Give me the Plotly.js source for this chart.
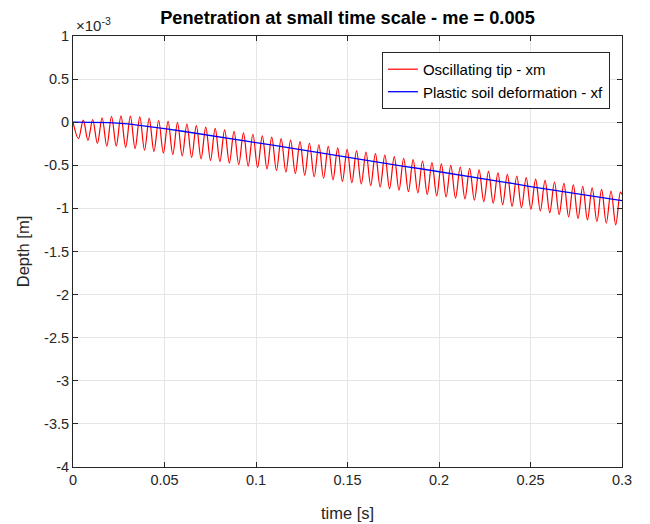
<!DOCTYPE html>
<html>
<head>
<meta charset="utf-8">
<script src="https://cdn.plot.ly/plotly-3.0.1.min.js"></script>
<style>html,body{margin:0;padding:0;background:#fff;}#chart{width:650px;height:524px;}</style>
</head>
<body>
<div id="chart"></div>
<script>
// Oscillating tip xm: extrema (time [s], depth [x1e-3 m])
var xmTime = [0, 0.003, 0.0056, 0.00818, 0.01075, 0.01333, 0.0159, 0.01848, 0.02105, 0.02363, 0.0262, 0.02878, 0.03135, 0.03393, 0.0365, 0.03908, 0.04165, 0.04423, 0.0468, 0.04938, 0.05195, 0.05453, 0.0571, 0.05968, 0.06225, 0.06483, 0.0674, 0.06998, 0.07255, 0.07513, 0.0777, 0.08028, 0.08285, 0.08543, 0.088, 0.09058, 0.09315, 0.09573, 0.0983, 0.10088, 0.10345, 0.10603, 0.1086, 0.11118, 0.11375, 0.11633, 0.1189, 0.12148, 0.12405, 0.12663, 0.1292, 0.13178, 0.13435, 0.13693, 0.1395, 0.14208, 0.14465, 0.14723, 0.1498, 0.15238, 0.15495, 0.15753, 0.1601, 0.16268, 0.16525, 0.16783, 0.1704, 0.17298, 0.17555, 0.17813, 0.1807, 0.18328, 0.18585, 0.18843, 0.191, 0.19358, 0.19615, 0.19873, 0.2013, 0.20388, 0.20645, 0.20903, 0.2116, 0.21418, 0.21675, 0.21933, 0.2219, 0.22448, 0.22705, 0.22963, 0.2322, 0.23478, 0.23735, 0.23993, 0.2425, 0.24508, 0.24765, 0.25023, 0.2528, 0.25538, 0.25795, 0.26053, 0.2631, 0.26568, 0.26825, 0.27083, 0.2734, 0.27598, 0.27855, 0.28113, 0.2837, 0.28628, 0.28885, 0.29143, 0.294, 0.29658, 0.29915, 0.3];
var xmDepth = [0, -0.19,
  0.025, -0.21, 0.03, -0.245, 0.05, -0.278, 0.069, -0.276, 0.074, -0.29,
  0.07, -0.305, 0.062, -0.325, 0.045, -0.34, 0.02, -0.358, 0.01, -0.374,
  -0.005, -0.39, -0.022, -0.408, -0.04, -0.425, -0.056, -0.442, -0.072, -0.456,
  -0.088, -0.474, -0.106, -0.492, -0.124, -0.51, -0.14, -0.525, -0.158, -0.542,
  -0.172, -0.56, -0.19, -0.578, -0.208, -0.595, -0.226, -0.614, -0.244, -0.632,
  -0.262, -0.65, -0.28, -0.668, -0.298, -0.686, -0.316, -0.702, -0.332, -0.718,
  -0.346, -0.735, -0.364, -0.752, -0.382, -0.77, -0.4, -0.788, -0.418, -0.805,
  -0.434, -0.82, -0.45, -0.837, -0.468, -0.854, -0.484, -0.868, -0.502, -0.88,
  -0.52, -0.89, -0.536, -0.905, -0.552, -0.922, -0.57, -0.94, -0.588, -0.957,
  -0.606, -0.975, -0.624, -0.993, -0.644, -1.01, -0.66, -1.03, -0.676, -1.05,
  -0.694, -1.07, -0.71, -1.098, -0.726, -1.116, -0.744, -1.134, -0.762, -1.152,
  -0.78, -1.17, -0.798, -1.19, -0.812, -0.84];

// Plastic soil deformation xf
var xfTime = [0, 0.01, 0.02, 0.03, 0.04, 0.05, 0.06, 0.07, 0.08, 0.09, 0.1, 0.11, 0.12, 0.13, 0.14, 0.15, 0.16, 0.17, 0.18, 0.19, 0.2, 0.21, 0.22, 0.23, 0.24, 0.25, 0.26, 0.27, 0.28, 0.29, 0.3];
var xfDepth = [0, 0, -0.005, -0.02, -0.045, -0.075, -0.105, -0.14, -0.17, -0.205, -0.237, -0.27, -0.305, -0.34, -0.375, -0.41, -0.44, -0.475, -0.51, -0.54, -0.573, -0.61, -0.64, -0.675, -0.71, -0.747, -0.78, -0.81, -0.845, -0.88, -0.91];

var xTickVals = [0, 0.05, 0.1, 0.15, 0.2, 0.25, 0.3];
var xTickText = ['0', '0.05', '0.1', '0.15', '0.2', '0.25', '0.3'];
var yTickVals = [1, 0.5, 0, -0.5, -1, -1.5, -2, -2.5, -3, -3.5, -4];
var yTickText = ['1', '0.5', '0', '-0.5', '-1', '-1.5', '-2', '-2.5', '-3', '-3.5', '-4'];

var font = 'Liberation Sans, Arial, Helvetica, sans-serif';
var axisCol = '#262626';

var traces = [
  {x: xmTime, y: xmDepth, type: 'scatter', mode: 'lines', name: 'Oscillating tip - xm',
   line: {color: '#ff0000', width: 1.2, shape: 'spline', smoothing: 1}},
  {x: xfTime, y: xfDepth, type: 'scatter', mode: 'lines', name: 'Plastic soil deformation - xf',
   line: {color: '#0000ff', width: 1.3}}
];

var axisCommon = {
  showline: true, mirror: 'ticks', linecolor: axisCol, linewidth: 1,
  ticks: 'inside', ticklen: 5, tickcolor: axisCol, tickwidth: 1,
  showgrid: true, gridcolor: '#e5e5e5', gridwidth: 1, zeroline: false,
  tickfont: {family: font, size: 14.5, color: axisCol}
};

var layout = {
  width: 650, height: 524,
  margin: {l: 73, r: 28, t: 36, b: 57},
  paper_bgcolor: '#ffffff', plot_bgcolor: '#ffffff',
  showlegend: true,
  title: {text: '<b>Penetration at small time scale - me = 0.005</b>',
          font: {family: font, size: 18.2, color: '#000'},
          x: 0.5, xref: 'paper', y: 1 - 18/524, yref: 'container', yanchor: 'middle'},
  xaxis: Object.assign({}, axisCommon, {
    range: [0, 0.3], tickvals: xTickVals, ticktext: xTickText,
    title: {text: 'time [s]', font: {family: font, size: 16.5, color: axisCol}, standoff: 20}
  }),
  yaxis: Object.assign({}, axisCommon, {
    range: [-4, 1], tickvals: yTickVals, ticktext: yTickText,
    title: {text: 'Depth [m]', font: {family: font, size: 16.5, color: axisCol}, standoff: 10}
  }),
  legend: {x: 0.978, y: 0.963, xanchor: 'right', yanchor: 'top',
           bgcolor: '#ffffff', bordercolor: axisCol, borderwidth: 1,
           font: {family: font, size: 15, color: '#000'}, tracegroupgap: 0},
  annotations: [{
    text: '×10<sup>-3</sup>', xref: 'paper', yref: 'paper', x: 0, y: 1,
    xanchor: 'left', yanchor: 'bottom', showarrow: false, xshift: 1, yshift: 0,
    font: {family: font, size: 15, color: axisCol}
  }]
};

Plotly.newPlot('chart', traces, layout, {displayModeBar: false, staticPlot: true});
</script>
</body>
</html>
